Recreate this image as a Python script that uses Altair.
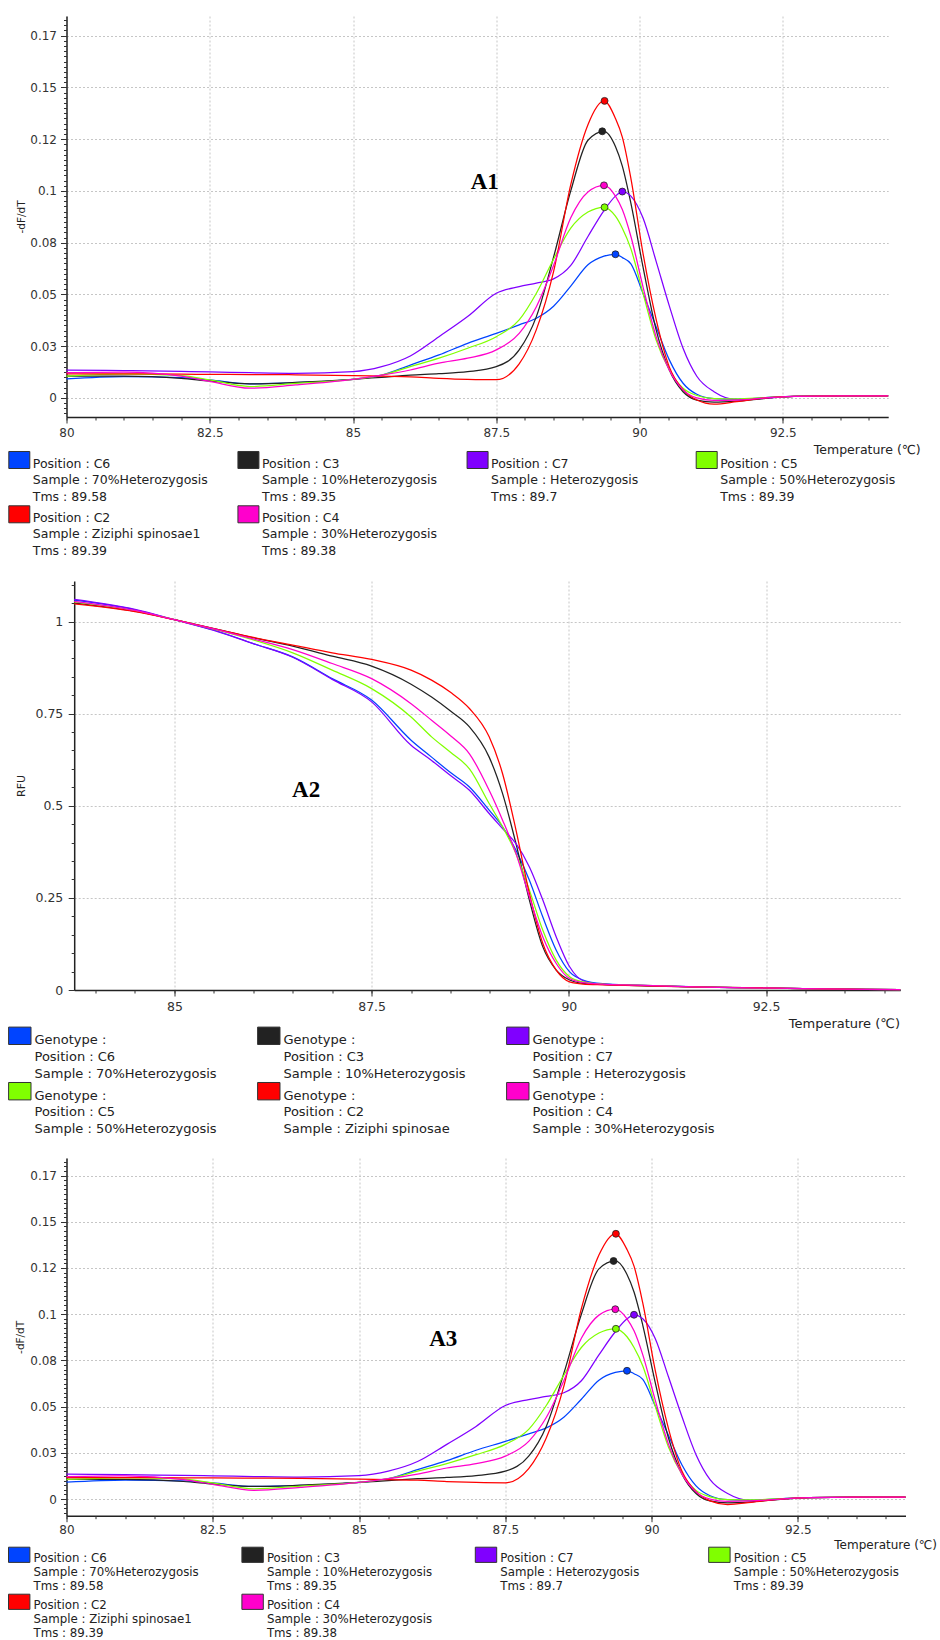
import altair as alt
import pandas as pd

# ---------------- data ----------------
SERIES = ["C6", "C3", "C7", "C5", "C2", "C4"]
COLORS = ["#0044ff", "#222222", "#8000ff", "#80ff00", "#ff0000", "#ff00cc"]
SAMPLES = ["70%Heterozygosis", "10%Heterozygosis", "Heterozygosis",
           "50%Heterozygosis", "Ziziphi spinosae1", "30%Heterozygosis"]
SAMPLES_RFU = ["70%Heterozygosis", "10%Heterozygosis", "Heterozygosis",
               "50%Heterozygosis", "Ziziphi spinosae", "30%Heterozygosis"]
TMS = [89.58, 89.35, 89.7, 89.39, 89.39, 89.38]
TMS_TEXT = ["89.58", "89.35", "89.7", "89.39", "89.39", "89.38"]
PEAK_DFDT = [0.0694, 0.1288, 0.0997, 0.0921, 0.1435, 0.1027]

T_DERIV = [80, 81, 82, 82.5, 83.2, 84, 85, 85.5, 86, 86.5, 87, 87.5, 87.9, 88.2,
           88.5, 88.8, 89.1, 89.38, 89.58, 89.7, 89.85, 90.06, 90.29, 90.52,
           90.76, 91.0, 91.3, 91.7, 92.2, 92.7, 93.5, 94.34]
DFDT_C6 = [0.0092, 0.0103, 0.0098, 0.0087, 0.0068, 0.0074, 0.0090, 0.0110, 0.0159,
           0.0208, 0.0264, 0.0312, 0.0353, 0.0385, 0.0443, 0.0540, 0.0643, 0.0685,
           0.0694, 0.0678, 0.0648, 0.0506, 0.0344, 0.0184, 0.0071, 0.0018, -0.0003,
           -0.0006, 0.0002, 0.0008, 0.0010, 0.0010]
DFDT_C3 = [0.0106, 0.0106, 0.0095, 0.0082, 0.0068, 0.0075, 0.0090, 0.0100, 0.0110,
           0.0117, 0.0127, 0.0151, 0.0232, 0.0393, 0.0680, 0.1000, 0.1245, 0.1288,
           0.1215, 0.1120, 0.0940, 0.0634, 0.0329, 0.0135, 0.0030, -0.0010, -0.0020,
           -0.0015, -0.0002, 0.0008, 0.0010, 0.0010]
DFDT_C7 = [0.0135, 0.0132, 0.0128, 0.0126, 0.0122, 0.0119, 0.0127, 0.0151, 0.0203,
           0.0296, 0.0393, 0.0506, 0.0538, 0.0555, 0.0575, 0.0640, 0.0780, 0.0905,
           0.0975, 0.0997, 0.0975, 0.0870, 0.0660, 0.0445, 0.0240, 0.0105, 0.0030,
           -0.0008, 0.0000, 0.0008, 0.0010, 0.0010]
DFDT_C5 = [0.0106, 0.0115, 0.0108, 0.0087, 0.0055, 0.0070, 0.0090, 0.0110, 0.0151,
           0.0192, 0.0240, 0.0296, 0.0377, 0.0506, 0.0670, 0.0820, 0.0898, 0.0921,
           0.0878, 0.0820, 0.0720, 0.0506, 0.0280, 0.0135, 0.0047, 0.0012, -0.0003,
           -0.0005, 0.0002, 0.0008, 0.0010, 0.0010]
DFDT_C2 = [0.0116, 0.0116, 0.0115, 0.0114, 0.0113, 0.0112, 0.0108, 0.0105, 0.0102,
           0.0095, 0.0090, 0.0088, 0.0165, 0.0330, 0.0610, 0.1030, 0.1320, 0.1435,
           0.1350, 0.1260, 0.1060, 0.0700, 0.0380, 0.0150, 0.0040, -0.0010, -0.0030,
           -0.0018, 0.0000, 0.0008, 0.0010, 0.0010]
DFDT_C4 = [0.0122, 0.0125, 0.0105, 0.0080, 0.0047, 0.0063, 0.0090, 0.0110, 0.0135,
           0.0168, 0.0192, 0.0232, 0.0312, 0.0441, 0.0640, 0.0870, 0.0995, 0.1027,
           0.0975, 0.0910, 0.0780, 0.0538, 0.0296, 0.0135, 0.0039, 0.0000, -0.0012,
           -0.0010, 0.0000, 0.0008, 0.0010, 0.0010]
DFDT = {"C6": DFDT_C6, "C3": DFDT_C3, "C7": DFDT_C7,
        "C5": DFDT_C5, "C2": DFDT_C2, "C4": DFDT_C4}

T_RFU = [83.73, 84.5, 85, 85.5, 86, 86.5, 87, 87.5, 88, 88.26, 88.5, 88.74, 88.99,
         89.16, 89.33, 89.5, 89.67, 89.84, 90.01, 90.18, 90.43, 90.85, 91.7, 92.97, 94.2]
RFU_C6 = [1.058, 1.032, 1.005, 0.977, 0.940, 0.904, 0.845, 0.787, 0.678, 0.632, 0.590,
          0.551, 0.488, 0.443, 0.379, 0.298, 0.198, 0.108, 0.049, 0.027, 0.017, 0.013,
          0.008, 0.004, 0.001]
RFU_C3 = [1.050, 1.028, 1.005, 0.981, 0.956, 0.933, 0.906, 0.879, 0.830, 0.795, 0.757,
          0.714, 0.632, 0.533, 0.397, 0.244, 0.117, 0.054, 0.027, 0.018, 0.015, 0.012,
          0.008, 0.004, 0.001]
RFU_C7 = [1.060, 1.033, 1.005, 0.976, 0.940, 0.903, 0.843, 0.782, 0.664, 0.623, 0.582,
          0.542, 0.479, 0.438, 0.397, 0.334, 0.244, 0.144, 0.063, 0.025, 0.015, 0.013,
          0.008, 0.004, 0.001]
RFU_C5 = [1.053, 1.029, 1.005, 0.979, 0.950, 0.915, 0.868, 0.818, 0.741, 0.687, 0.645,
          0.600, 0.506, 0.443, 0.370, 0.271, 0.162, 0.081, 0.036, 0.022, 0.016, 0.013,
          0.008, 0.004, 0.001]
RFU_C2 = [1.048, 1.027, 1.005, 0.981, 0.957, 0.936, 0.915, 0.897, 0.868, 0.841, 0.808,
          0.764, 0.687, 0.587, 0.434, 0.262, 0.126, 0.054, 0.022, 0.016, 0.014, 0.012,
          0.008, 0.004, 0.001]
RFU_C4 = [1.055, 1.030, 1.005, 0.980, 0.953, 0.924, 0.886, 0.845, 0.777, 0.732, 0.690,
          0.641, 0.542, 0.461, 0.370, 0.253, 0.144, 0.072, 0.031, 0.020, 0.016, 0.013,
          0.008, 0.004, 0.001]
RFU = {"C6": RFU_C6, "C3": RFU_C3, "C7": RFU_C7,
       "C5": RFU_C5, "C2": RFU_C2, "C4": RFU_C4}

X_TICKS_DERIV = [80, 82.5, 85, 87.5, 90, 92.5]
X_TICKS_RFU = [85, 87.5, 90, 92.5]
Y_TICKS_DERIV = [0, 0.025, 0.05, 0.075, 0.1, 0.125, 0.15, 0.175]
Y_LABELS_DERIV = ["0", "0.03", "0.05", "0.08", "0.1", "0.12", "0.15", "0.17"]
Y_TICKS_RFU = [0, 0.25, 0.5, 0.75, 1]
PANEL_LABELS = ["A1", "A2", "A3"]
X_TITLE = "Temperature (\u2103)"

# ---------------- helpers ----------------
X_MINOR = [80 + 0.5 * i for i in range(29)]
Y_MINOR_DERIV = [round(-0.0075 + 0.0025 * i, 4) for i in range(77)]
Y_MINOR_RFU = [round(0.05 * i, 2) for i in range(23)]

FONT = "DejaVu Sans"
GRID = "#c6c6c6"
INK = "#333333"
PLAIN = "'' + datum.value"


def long_df(tgrid, table):
    rows = []
    for s in SERIES:
        for t, v in zip(tgrid, table[s]):
            rows.append({"T": t, "v": v, "series": s})
    return pd.DataFrame(rows)


color_enc = alt.Color("series:N", scale=alt.Scale(domain=SERIES, range=COLORS), legend=None)


def panel(df, peaks, xdom, xrange, width, height, ydom, xticks, yticks, ylabel_expr,
          yminor, ytitle, ytitle_x, xtitle_x, xtitle_y, fs, title_fs, ytitle_fs,
          label_text, label_xy, y_offset=0, xlab_pad=4, ylab_pad=4):
    xs = alt.Scale(domain=xdom, range=xrange, nice=False, zero=False)
    ys = alt.Scale(domain=ydom, nice=False, zero=False)
    x_major = alt.Axis(values=xticks, labelExpr=PLAIN, title=X_TITLE, titleX=xtitle_x,
                       titleY=xtitle_y, titleAlign="right", titleBaseline="middle",
                       titleFont=FONT, titleFontSize=title_fs, titleFontWeight="normal",
                       titleColor="#222222", labelFont=FONT, labelFontSize=fs,
                       labelColor=INK, labelPadding=xlab_pad, labelFlush=False,
                       labelOverlap=False, tickSize=6, tickColor=INK, domainColor="#222222",
                       domainWidth=1.5, grid=True, gridColor=GRID, gridDash=[2, 2],
                       gridWidth=1)
    y_major = alt.Axis(values=yticks, labelExpr=ylabel_expr, title=ytitle,
                       titleX=ytitle_x, titleY=height / 2, titleAngle=270,
                       titleAlign="center", titleBaseline="middle", titleFont=FONT,
                       titleFontSize=ytitle_fs, titleFontWeight="normal",
                       titleColor="#222222", labelFont=FONT, labelFontSize=fs,
                       labelColor=INK, labelPadding=ylab_pad, labelFlush=False,
                       labelOverlap=False, tickSize=6, tickColor=INK,
                       domainColor="#222222", domainWidth=1.5, grid=True, gridColor=GRID,
                       gridDash=[2, 2], gridWidth=1, offset=y_offset)
    x_minor = alt.Axis(values=X_MINOR, labels=False, grid=False, domain=False, ticks=True,
                       tickSize=3, tickColor=INK, title=None, orient="bottom")
    y_minor = alt.Axis(values=yminor, labels=False, grid=False, domain=False, ticks=True,
                       tickSize=3, tickColor=INK, title=None, orient="left", offset=y_offset)

    lines = alt.Chart(df).mark_line(interpolate="monotone", strokeWidth=1.25).encode(
        x=alt.X("T:Q", scale=xs, axis=x_major),
        y=alt.Y("v:Q", scale=ys, axis=y_major),
        color=color_enc,
    )
    layers = [lines]
    if peaks is not None:
        pts = alt.Chart(peaks).mark_point(filled=True, size=48, opacity=1, stroke="#222222",
                                          strokeWidth=0.8).encode(
            x=alt.X("T:Q", scale=xs, axis=x_minor),
            y=alt.Y("v:Q", scale=ys, axis=y_minor),
            color=color_enc,
        )
        layers.append(pts)
    else:
        ghost = alt.Chart(df).mark_point(opacity=0, size=1).encode(
            x=alt.X("T:Q", scale=xs, axis=x_minor),
            y=alt.Y("v:Q", scale=ys, axis=y_minor),
        )
        layers.append(ghost)
    lab = alt.Chart(pd.DataFrame({"T": [label_xy[0]], "v": [label_xy[1]],
                                  "t": [label_text]})).mark_text(
        font="Liberation Serif", fontWeight="bold", fontSize=23, color="#000000",
        align="center", baseline="middle").encode(
        x=alt.X("T:Q", scale=xs, axis=None),
        y=alt.Y("v:Q", scale=ys, axis=None),
        text="t:N",
    )
    layers.append(lab)
    return alt.layer(*layers).resolve_axis(x="independent", y="independent").properties(
        width=width, height=height)


def legend(entries, ncols, col_range, width, height, top0, row_step, line_step, box_dy,
           box_w, box_h, dx, fs):
    boxes, texts = [], []
    for i, s in enumerate(SERIES):
        r, c = divmod(i, ncols)
        base = top0 + r * row_step
        boxes.append({"series": s, "col": c, "py": base - box_dy})
        for j, line in enumerate(entries[i]):
            texts.append({"col": c, "py": base + j * line_step, "text": line})
    xs = alt.Scale(domain=[0, ncols - 1], range=col_range, nice=False, zero=False)
    ys = alt.Scale(domain=[0, height], range=[0, height], nice=False, zero=False)
    r = box_h / box_w
    shape = f"M-1,{-r:.3f}H1V{r:.3f}H-1Z"
    b = alt.Chart(pd.DataFrame(boxes)).mark_point(
        shape=shape, size=box_w ** 2, filled=True, opacity=1, stroke="#333333",
        strokeWidth=1).encode(
        x=alt.X("col:Q", scale=xs, axis=None),
        y=alt.Y("py:Q", scale=ys, axis=None),
        fill=alt.Fill("series:N", scale=alt.Scale(domain=SERIES, range=COLORS), legend=None),
    )
    t = alt.Chart(pd.DataFrame(texts)).mark_text(
        align="left", baseline="middle", dx=dx, font=FONT, fontSize=fs,
        color="#222222").encode(
        x=alt.X("col:Q", scale=xs, axis=None),
        y=alt.Y("py:Q", scale=ys, axis=None),
        text="text:N",
    )
    return alt.layer(b, t).properties(width=width, height=height)


# ---------------- panels ----------------
df_d = long_df(T_DERIV, DFDT)
df_r = long_df(T_RFU, RFU)
df_pk = pd.DataFrame({"T": TMS, "v": PEAK_DFDT, "series": SERIES})
deriv_expr = "[" + ",".join(f"'{s}'" for s in Y_LABELS_DERIV) + "][round(datum.value / 0.025)]"

entries_d = [[f"Position : {s}", f"Sample : {smp}", f"Tms : {tm}"]
             for s, smp, tm in zip(SERIES, SAMPLES, TMS_TEXT)]
entries_r = [["Genotype :", f"Position : {s}", f"Sample : {smp}"]
             for s, smp in zip(SERIES, SAMPLES_RFU)]

a1 = panel(df_d, df_pk, [80, 94.34], [0, 821.7], 821.7, 401, [-0.0092, 0.1845],
           X_TICKS_DERIV, Y_TICKS_DERIV, deriv_expr, Y_MINOR_DERIV, "-dF/dT", -45.3,
           853.7, 32.3, 12, 12.5, 10.5, PANEL_LABELS[0], (87.3, 0.1045))
l1 = legend(entries_d, 4, [-47.2, 640.2], 821.7, 163.7, 46.5, 54.3, 16.6, 3.5,
            21, 17, 13.5, 12.5)
a2 = panel(df_r, None, [83.73, 94.2], [7.7, 833.7], 833.7, 409, [0, 1.11],
           X_TICKS_RFU, Y_TICKS_RFU, PLAIN, Y_MINOR_RFU, "RFU", -53,
           833, 33.6, 12.5, 13, 11, PANEL_LABELS[1], (86.67, 0.542), y_offset=-7.7,
           ylab_pad=5.4)
l2 = legend(entries_r, 3, [-46.7, 451.3], 833.7, 167.6, 50.1, 55.4, 16.8, 4.3,
            22.4, 17.4, 14.7, 13)
a3 = panel(df_d, df_pk, [80, 94.34], [0, 839], 839, 357.7, [-0.009, 0.1845],
           X_TICKS_DERIV, Y_TICKS_DERIV, deriv_expr, Y_MINOR_DERIV, "-dF/dT", -45.7,
           870, 28.3, 12, 12, 10.5, PANEL_LABELS[2], (86.44, 0.0866), xlab_pad=3)
l3 = legend(entries_d, 4, [-47.3, 652.9], 839, 124, 42, 47, 14, 3.2,
            21.4, 15.2, 14.3, 11.8)

chart = alt.vconcat(a1, l1, a2, l2, a3, l3, spacing=0, bounds="flush").properties(
    padding={"left": 6.5, "top": 16, "right": 0, "bottom": 0}
).configure(font=FONT, background="white").configure_view(stroke=None)

chart.save("out.html", embed_options={"renderer": "svg", "actions": False})
